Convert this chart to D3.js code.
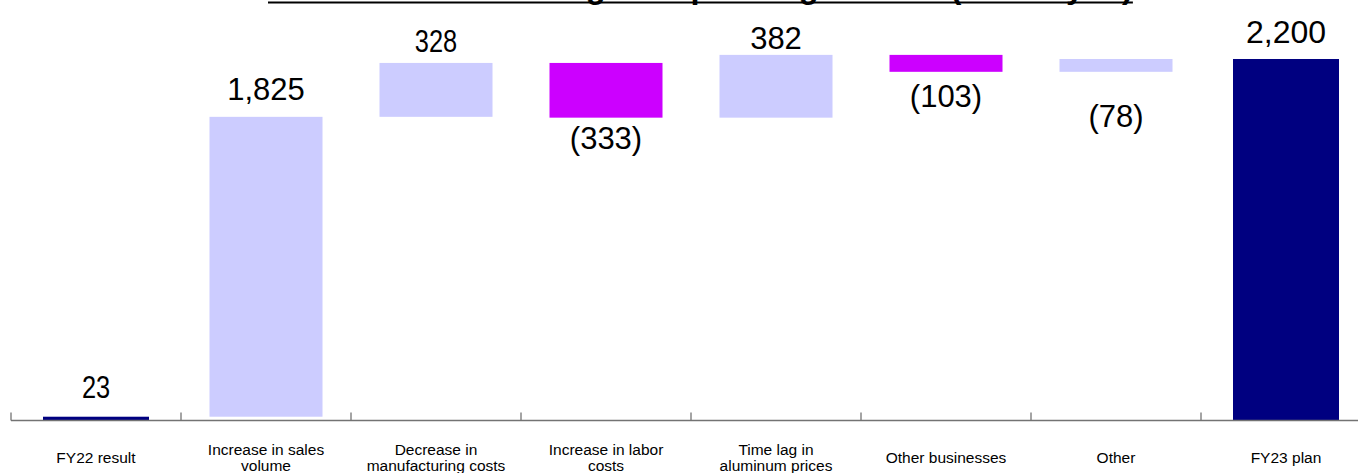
<!DOCTYPE html>
<html>
<head>
<meta charset="utf-8">
<script src="https://cdn.jsdelivr.net/npm/d3@7/dist/d3.min.js"></script>
<style>
  html, body { margin: 0; padding: 0; background: #fff; }
  svg { display: block; font-family: Arial, "Liberation Sans", sans-serif; }
</style>
</head>
<body>
<svg id="chart" width="1358" height="473"></svg>
<script>
// Operating income bridge, FY22 result to FY23 plan (billion yen)
const titleText = "Breakdown of change in operating income (billion yen)";
const categories = [
  "FY22 result",
  "Increase in sales\nvolume",
  "Decrease in\nmanufacturing costs",
  "Increase in labor\ncosts",
  "Time lag in\naluminum prices",
  "Other businesses",
  "Other",
  "FY23 plan"
];
const barKinds = ["total", "step", "step", "step", "step", "step", "step", "total"];
const values = [23, 1825, 328, -333, 382, -103, 78, 2200];
const valueLabels = ["23", "1,825", "328", "(333)", "382", "(103)", "(78)", "2,200"];

const W = 1358, H = 473;
const svg = d3.select("#chart");

const colors = { total: "#000080", up: "#CCCCFF", down: "#CC00FF" };

// running totals -> [start, end] for each bar
let running = 0;
const bars = categories.map((c, i) => {
  let start, end;
  if (barKinds[i] === "total") { start = 0; end = values[i]; running = values[i]; }
  else { start = running; end = running + values[i]; running = end; }
  return { cat: c, i, kind: barKinds[i], value: values[i], start, end, label: valueLabels[i] };
});

const x = d3.scaleBand().domain(categories).range([11, 11 + 170 * categories.length]).padding(0);
const y = d3.scaleLinear().domain([0, 2500]).range([420.5, 420.5 - 2500 * 0.16432]);

// title (sits mostly above the visible area)
const title = svg.append("text")
  .attr("x", 286).attr("y", -2)
  .attr("font-size", 32.5).attr("font-weight", "bold")
  .attr("fill", "#000")
  .text(titleText);
const tb = title.node().getBBox();
svg.append("line")
  .attr("x1", tb.x - 18).attr("x2", tb.x + tb.width)
  .attr("y1", 2.5).attr("y2", 2.5)
  .attr("stroke", "#000").attr("stroke-width", 2);

// bars
const inset = d => d.kind === "total" ? 32 : 28.5;
svg.append("g").selectAll("rect").data(bars).join("rect")
  .attr("x", d => x(d.cat) + inset(d))
  .attr("width", d => x.bandwidth() - 2 * inset(d))
  .attr("y", d => y(Math.max(d.start, d.end)))
  .attr("height", d => Math.abs(y(d.start) - y(d.end)))
  .attr("fill", d => d.kind === "total" ? colors.total : (d.value >= 0 ? colors.up : colors.down));

// category axis: ticks point up into the plot
const axisG = svg.append("g").attr("transform", "translate(0,420.5)");
axisG.append("line")
  .attr("x1", x.range()[0]).attr("x2", W)
  .attr("stroke", "#737373").attr("stroke-width", 1.3);
axisG.selectAll("line.tick").data(categories).join("line")
  .attr("class", "tick")
  .attr("x1", d => x(d)).attr("x2", d => x(d))
  .attr("y1", 0).attr("y2", -8)
  .attr("stroke", "#737373").attr("stroke-width", 1.3);

const catLabels = svg.append("g").selectAll("text").data(categories).join("text")
  .attr("text-anchor", "middle")
  .attr("font-size", 15.5)
  .attr("fill", "#000");
catLabels.each(function (d) {
  const lines = d.split("\n");
  const cx = x(d) + x.bandwidth() / 2;
  const t = d3.select(this);
  const base = lines.length === 1 ? 463 : 454.5;
  lines.forEach((ln, k) => {
    t.append("tspan").attr("x", cx).attr("y", base + k * 16.5).text(ln);
  });
});

// value labels: above rising bars, below falling ones
const labelNudge = [-3.7, -1.5, 3.7, -3.5, 9.3, 0, 20, -1];
const condensed = new Set([0, 2]);
const isBelow = d => d.label.startsWith("(");
svg.append("g").selectAll("text").data(bars).join("text")
  .attr("text-anchor", "middle")
  .attr("font-size", d => d.kind === "total" && d.i > 0 ? 32 : 31)
  .attr("fill", "#000")
  .attr("transform", d => {
    const cx = x(d.cat) + x.bandwidth() / 2;
    const top = y(Math.max(d.start, d.end));
    const bottom = y(Math.min(d.start, d.end));
    const by = (isBelow(d) ? bottom + 35 : top - 15) + labelNudge[d.i];
    const sx = condensed.has(d.i) ? 0.82 : 1;
    return `translate(${cx},${by}) scale(${sx},1)`;
  })
  .text(d => d.label);
</script>
</body>
</html>
